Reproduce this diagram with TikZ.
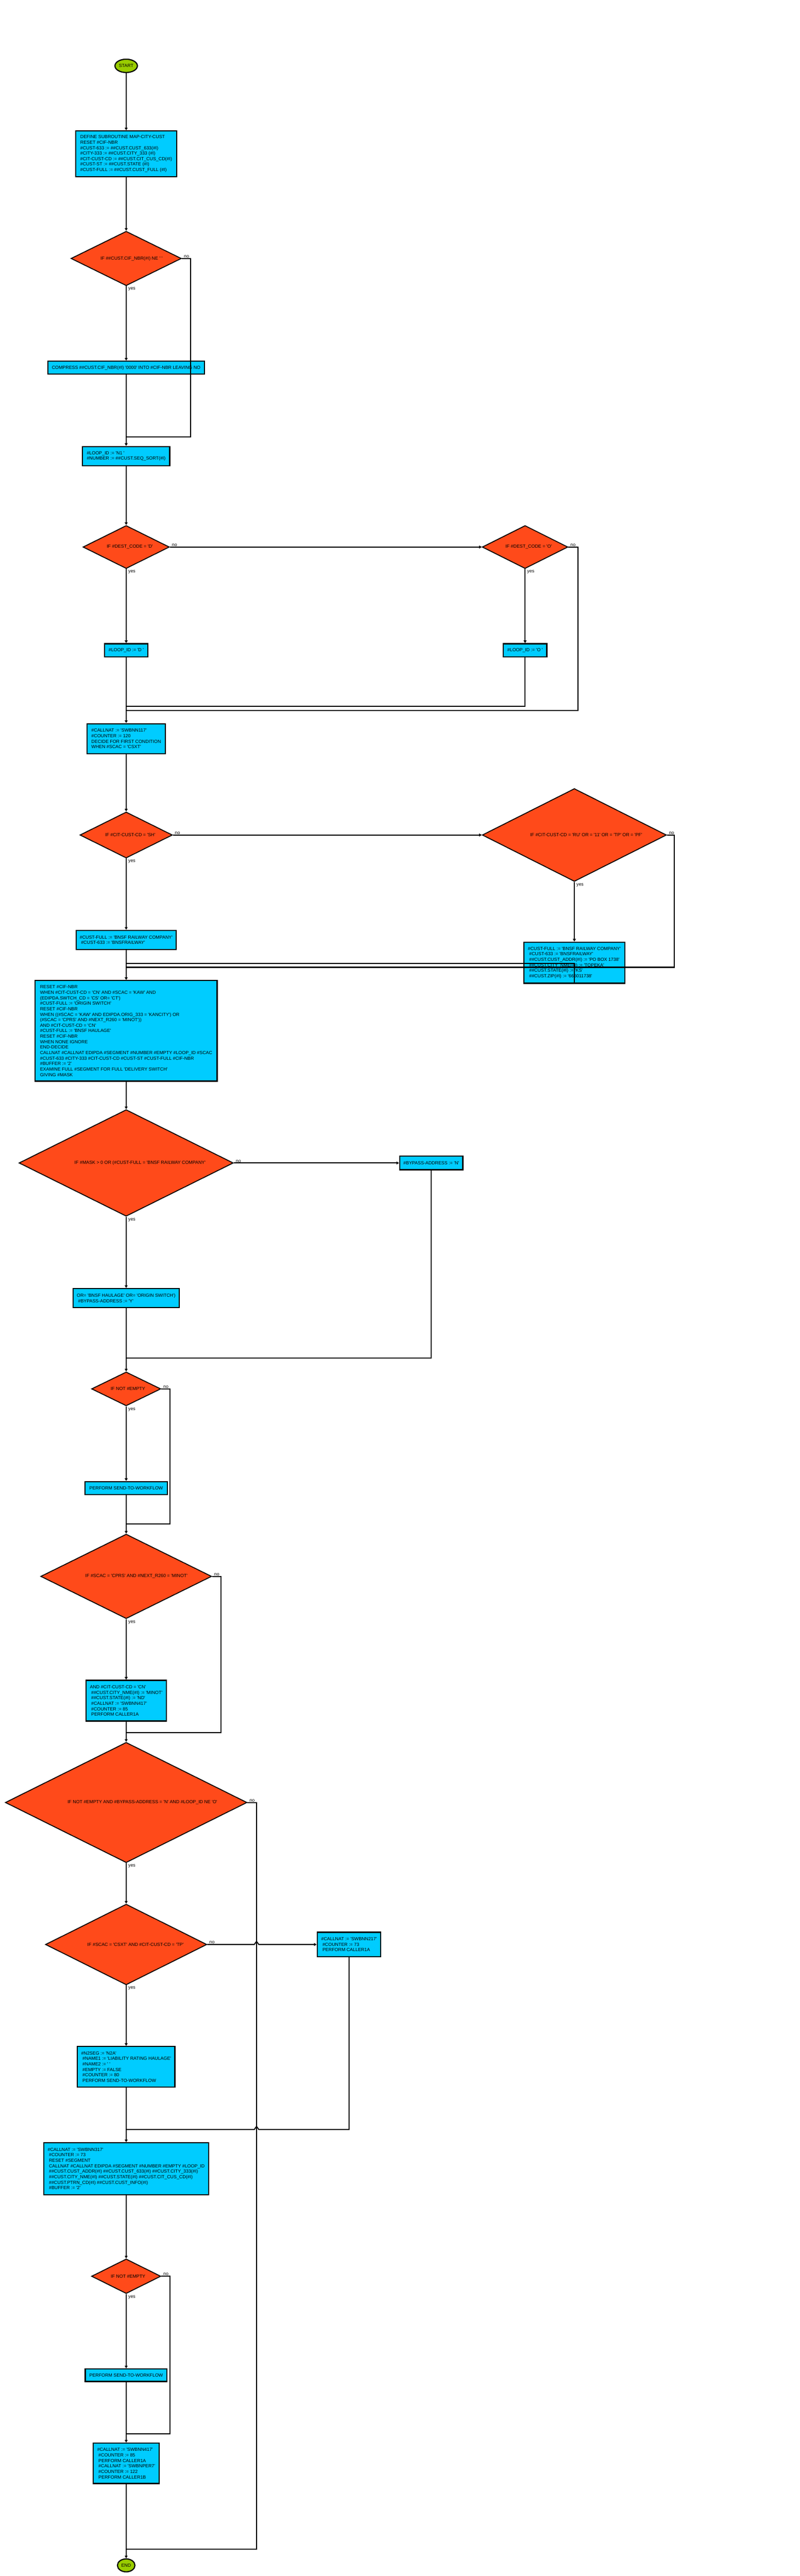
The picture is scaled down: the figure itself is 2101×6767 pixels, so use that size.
\documentclass[tikz,border=0pt]{standalone}
\usepackage{fontspec}
\setmainfont{Liberation Sans}[Ligatures=TeXOff]
\usetikzlibrary{shapes.geometric,arrows.meta}
\definecolor{boxc}{HTML}{00CCFF}
\definecolor{decc}{HTML}{FF4A1A}
\definecolor{termc}{HTML}{99CC00}
\tikzset{
  term/.style n args={2}{ellipse, draw=black, line width=1.5pt, fill=termc, inner sep=0pt,
    minimum width={#1*0.5pt}, minimum height={#2*0.5pt}},
  proc/.style n args={2}{rectangle, draw=black, line width=1.5pt, fill=boxc, align=left, inner sep=1pt,
    minimum width={#1*0.5pt}, minimum height={#2*0.5pt}},
  dec/.style n args={2}{diamond, draw=black, line width=1.2pt, fill=decc, inner sep=0pt,
    minimum width={#1*0.5pt}, minimum height={#2*0.5pt}},
  dtext/.style={inner sep=0pt, align=center},
  lbl/.style={inner sep=0.6pt},
  conn/.style={line width=1.4pt, line join=miter},
  arr/.style={conn, -{Triangle[length=3.5pt,width=3.8pt]}}
}
\newcommand\ynlabels[1]{%
  \node[lbl,anchor=south west] (#1no) at ([xshift=2pt]#1.east) {no};
  \node[lbl,anchor=north west] (#1yes) at ([xshift=2pt,yshift=-1pt]#1.south) {yes};
}
\begin{document}
\begin{tikzpicture}[x=0.5pt,y=-0.5pt,font=\fontsize{6}{7.2}\selectfont]
\useasboundingbox (0,0) rectangle (2101,6767);
\fill[white] (0,0) rectangle (2101,6767);

% ---------------- nodes ----------------
\node[term={59}{35}] (start) at (331.5,173) {START};
\node[proc={265}{120}] (b1) at (331.5,404) {DEFINE SUBROUTINE MAP-CITY-CUST\\RESET \#CIF-NBR\\\#CUST-633 := \#\#CUST.CUST\_633(\#I)\\\#CITY-333 := \#\#CUST.CITY\_333 (\#I)\\\#CIT-CUST-CD := \#\#CUST.CIT\_CUS\_CD(\#I)\\\#CUST-ST := \#\#CUST.STATE (\#I)\\\#CUST-FULL := \#\#CUST.CUST\_FULL (\#I)};
\node[dec={290}{143}] (d1) at (331.5,679) {};
\node[dtext] (d1t) at (345.5,679) {IF \#\#CUST.CIF\_NBR(\#I) NE ' '};
\node[proc={411}{34}] (b2) at (331.5,966) {COMPRESS \#\#CUST.CIF\_NBR(\#I) '0000' INTO \#CIF-NBR LEAVING NO};
\node[proc={229}{50}] (b3) at (331.5,1198) {\#LOOP\_ID := 'N1 '\\\#NUMBER := \#\#CUST.SEQ\_SORT(\#I)};
\node[dec={227}{113}] (d2) at (331.5,1437) {};
\node[dtext] (d2t) at (341,1437) {IF \#DEST\_CODE = 'D'};
\node[dec={225}{113}] (d3) at (1379.5,1437) {};
\node[dtext] (d3t) at (1389,1437) {IF \#DEST\_CODE = 'O'};
\node[proc={113}{35}] (b4) at (331.5,1708.5) {\#LOOP\_ID := 'D '};
\node[proc={114}{35}] (b5) at (1379.5,1708.5) {\#LOOP\_ID := 'O '};
\node[proc={206}{79}] (b6) at (331.5,1940.5) {\#CALLNAT := 'SWBNN117'\\\#COUNTER := 120\\DECIDE FOR FIRST CONDITION\\WHEN \#SCAC = 'CSXT'};
\node[dec={243}{121}] (d4) at (331.5,2193.5) {};
\node[dtext] (d4t) at (342,2193.5) {IF \#CIT-CUST-CD = 'SH'};
\node[dec={484}{244}] (d5) at (1509,2193.5) {};
\node[dtext] (d5t) at (1540,2193.5) {IF \#CIT-CUST-CD = 'RU' OR = '11' OR = 'TP' OR = 'PF'};
\node[proc={263}{50}] (b7) at (331.5,2469) {\#CUST-FULL := 'BNSF RAILWAY COMPANY'\\\ \#CUST-633 := 'BNSFRAILWAY'};
\node[proc={265}{108}] (b8) at (1509,2529) {\#CUST-FULL := 'BNSF RAILWAY COMPANY'\\\ \#CUST-633 := 'BNSFRAILWAY'\\\ \#\#CUST.CUST\_ADDR(\#I) := 'PO BOX 1738'\\\ \#\#CUST.CITY\_NME(\#I) := 'TOPEKA'\\\ \#\#CUST.STATE(\#I) := 'KS'\\\ \#\#CUST.ZIP(\#I) := '666011738'};
\node[proc={478}{264}] (b9) at (331.5,2708) {RESET \#CIF-NBR\\WHEN \#CIT-CUST-CD = 'CN' AND \#SCAC = 'KAW' AND\\(EDIPDA.SWTCH\_CD = 'CS' OR= 'CT')\\\#CUST-FULL := 'ORIGIN SWITCH'\\RESET \#CIF-NBR\\WHEN ((\#SCAC = 'KAW' AND EDIPDA.ORIG\_333 = 'KANCITY') OR\\(\#SCAC = 'CPRS' AND \#NEXT\_R260 = 'MINOT'))\\AND \#CIT-CUST-CD = 'CN'\\\#CUST-FULL := 'BNSF HAULAGE'\\RESET \#CIF-NBR\\WHEN NONE IGNORE\\END-DECIDE\\CALLNAT \#CALLNAT EDIPDA \#SEGMENT \#NUMBER \#EMPTY \#LOOP\_ID \#SCAC\\\#CUST-633 \#CITY-333 \#CIT-CUST-CD \#CUST-ST \#CUST-FULL \#CIF-NBR\\\#BUFFER := '2'\\EXAMINE FULL \#SEGMENT FOR FULL 'DELIVERY SWITCH'\\GIVING \#MASK};
\node[dec={563}{280}] (d6) at (331.5,3055) {};
\node[dtext] (d6t) at (368,3055) {IF \#MASK > 0 OR (\#CUST-FULL = 'BNSF RAILWAY COMPANY'};
\node[proc={166}{36}] (b10) at (1133,3055) {\#BYPASS-ADDRESS := 'N'};
\node[proc={279}{50}] (b11) at (331.5,3410) {OR= 'BNSF HAULAGE' OR= 'ORIGIN SWITCH')\\\ \#BYPASS-ADDRESS := 'Y'};
\node[dec={182}{89}] (d7) at (331.5,3648.5) {};
\node[dtext] (d7t) at (336,3648.5) {IF NOT \#EMPTY};
\node[proc={216}{34}] (b12) at (331.5,3909) {PERFORM SEND-TO-WORKFLOW};
\node[dec={449}{222}] (d8) at (331.5,4141) {};
\node[dtext] (d8t) at (358.5,4141) {IF \#SCAC = 'CPRS' AND \#NEXT\_R260 = 'MINOT'};
\node[proc={211}{107}] (b13) at (331.5,4467.5) {AND \#CIT-CUST-CD = 'CN'\\\ \#\#CUST.CITY\_NME(\#I) := 'MINOT'\\\ \#\#CUST.STATE(\#I) := 'ND'\\\ \#CALLNAT := 'SWBNN417'\\\ \#COUNTER := 85\\\ PERFORM CALLER1A};
\node[dec={635}{316}] (d9) at (331.5,4735) {};
\node[dtext] (d9t) at (374,4735) {IF NOT \#EMPTY AND \#BYPASS-ADDRESS = 'N' AND \#LOOP\_ID NE 'O'};
\node[dec={424}{212}] (d10) at (331.5,5108) {};
\node[dtext] (d10t) at (356,5108) {IF \#SCAC = 'CSXT' AND \#CIT-CUST-CD = 'TP'};
\node[proc={167}{64}] (b14) at (917,5108) {\#CALLNAT := 'SWBNN217'\\\ \#COUNTER := 73\\\ PERFORM CALLER1A};
\node[proc={256}{107}] (b15) at (331.5,5429.5) {\#N2SEG := 'N2A'\\\ \#NAME1 := 'LIABILITY RATING HAULAGE'\\\ \#NAME2 := ' '\\\ \#EMPTY := FALSE\\\ \#COUNTER := 80\\\ PERFORM SEND-TO-WORKFLOW};
\node[proc={433}{136}] (b16) at (331.5,5697) {\#CALLNAT := 'SWBNN317'\\\ \#COUNTER := 73\\\ RESET \#SEGMENT\\\ CALLNAT \#CALLNAT EDIPDA \#SEGMENT \#NUMBER \#EMPTY \#LOOP\_ID\\\ \#\#CUST.CUST\_ADDR(\#I) \#\#CUST.CUST\_633(\#I) \#\#CUST.CITY\_333(\#I)\\\ \#\#CUST.CITY\_NME(\#I) \#\#CUST.STATE(\#I) \#\#CUST.CIT\_CUS\_CD(\#I)\\\ \#\#CUST.PTRN\_CD(\#I) \#\#CUST.CUST\_INFO(\#I)\\\ \#BUFFER := '2'};
\node[dec={182}{91}] (d11) at (331.5,5979.5) {};
\node[dtext] (d11t) at (336.5,5979.5) {IF NOT \#EMPTY};
\node[proc={215}{33}] (b17) at (331.5,6239.5) {PERFORM SEND-TO-WORKFLOW};
\node[proc={173}{106}] (b18) at (331.5,6471) {\#CALLNAT := 'SWBNN417'\\\ \#COUNTER := 85\\\ PERFORM CALLER1A\\\ \#CALLNAT := 'SWBNPER7'\\\ \#COUNTER := 122\\\ PERFORM CALLER1B};
\node[term={46}{34}] (end) at (331.5,6739) {END};

% ---------------- yes / no labels ----------------
\ynlabels{d1}\ynlabels{d2}\ynlabels{d3}\ynlabels{d4}\ynlabels{d5}\ynlabels{d6}
\ynlabels{d7}\ynlabels{d8}\ynlabels{d9}\ynlabels{d10}\ynlabels{d11}

% ---------------- connectors ----------------
\draw[arr] (start.south) -- (b1.north);
\draw[arr] (b1.south) -- (d1.north);
\draw[arr] (d1.south) -- (b2.north);
\draw[conn] (d1.east) -- (501,679) -- (501,1148) -- (331.5,1148);
\draw[arr] (b2.south) -- (b3.north);
\draw[arr] (b3.south) -- (d2.north);
\draw[arr] (d2.east) -- (d3.west);
\draw[arr] (d2.south) -- (b4.north);
\draw[arr] (d3.south) -- (b5.north);
\draw[conn] (b5.south) -- (1379.5,1856) -- (331.5,1856);
\draw[conn] (d3.east) -- (1519,1437) -- (1519,1866) -- (331.5,1866);
\draw[arr] (b4.south) -- (b6.north);
\draw[arr] (b6.south) -- (d4.north);
\draw[arr] (d4.east) -- (d5.west);
\draw[arr] (d4.south) -- (b7.north);
\draw[arr] (d5.south) -- (b8.north);
\draw[conn] (b8.south) -- (1509,2531) -- (331.5,2531);
\draw[conn] (d5.east) -- (1772,2193.5) -- (1772,2541) -- (331.5,2541);
\draw[arr] (b7.south) -- (b9.north);
\draw[arr] (b9.south) -- (d6.north);
\draw[arr] (d6.east) -- (b10.west);
\draw[arr] (d6.south) -- (b11.north);
\draw[conn] (b10.south) -- (1133,3567) -- (331.5,3567);
\draw[arr] (b11.south) -- (d7.north);
\draw[arr] (d7.south) -- (b12.north);
\draw[conn] (d7.east) -- (447,3648.5) -- (447,4003) -- (331.5,4003);
\draw[arr] (b12.south) -- (d8.north);
\draw[arr] (d8.south) -- (b13.north);
\draw[conn] (d8.east) -- (580,4141) -- (580,4552) -- (331.5,4552);
\draw[arr] (b13.south) -- (d9.north);
\draw[arr] (d9.south) -- (d10.north);
\draw[conn] (d9.east) -- (674,4735) -- (674,6696) -- (331.5,6696);
\draw[arr] (d10.east) -- (668,5108) -- (674,5100) -- (680,5108) -- (b14.west);
\draw[arr] (d10.south) -- (b15.north);
\draw[conn] (b14.south) -- (917,5594) -- (680,5594) -- (674,5586) -- (668,5594) -- (331.5,5594);
\draw[arr] (b15.south) -- (b16.north);
\draw[arr] (b16.south) -- (d11.north);
\draw[arr] (d11.south) -- (b17.north);
\draw[conn] (d11.east) -- (447,5979.5) -- (447,6393) -- (331.5,6393);
\draw[arr] (b17.south) -- (b18.north);
\draw[arr] (b18.south) -- (end.north);
\end{tikzpicture}
\end{document}
